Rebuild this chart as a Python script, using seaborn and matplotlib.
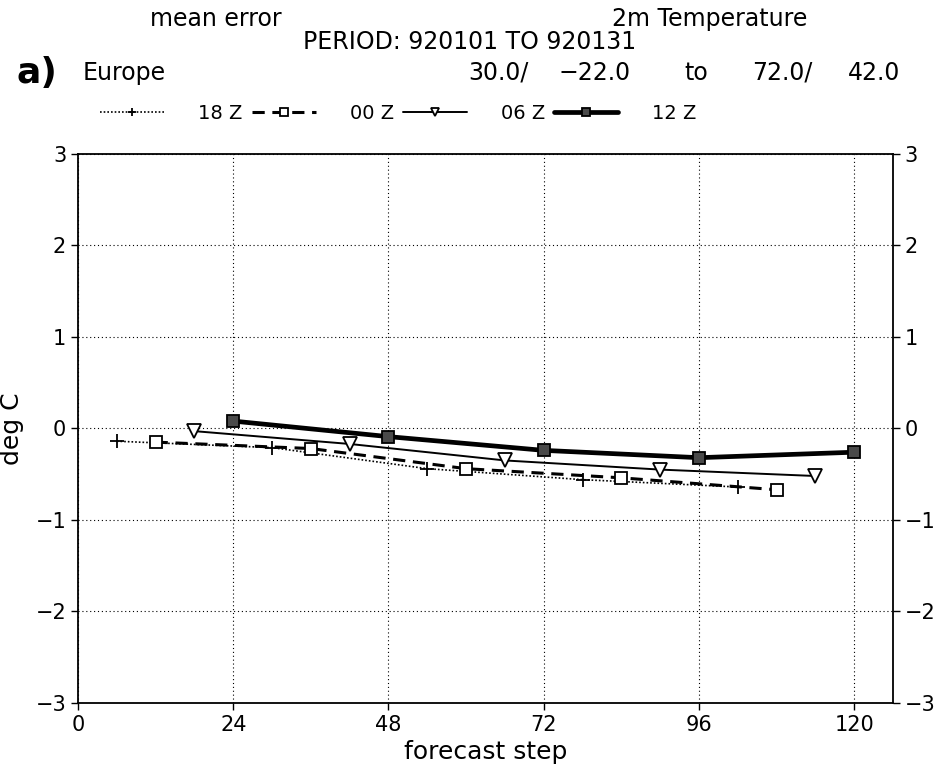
import matplotlib
matplotlib.use("Agg")
import matplotlib.pyplot as plt
from matplotlib.lines import Line2D
import seaborn as sns
import pandas as pd

# Data (forecast step in hours, error in deg C)
steps_18z = [6, 30, 54, 78, 102]
err_18z = [-0.14, -0.21, -0.44, -0.56, -0.64]
steps_00z = [12, 36, 60, 84, 108]
err_00z = [-0.15, -0.22, -0.44, -0.54, -0.67]
steps_06z = [18, 42, 66, 90, 114]
err_06z = [-0.03, -0.17, -0.35, -0.45, -0.52]
steps_12z = [24, 48, 72, 96, 120]
err_12z = [0.08, -0.09, -0.24, -0.32, -0.26]

x_ticks = [0, 24, 48, 72, 96, 120]
y_ticks = [-3, -2, -1, 0, 1, 2, 3]

sns.set_theme(style="white")
plt.rcParams['font.family'] = ['DejaVu Sans']
plt.rcParams['text.color'] = 'black'
plt.rcParams['axes.labelcolor'] = 'black'

fig = plt.figure(figsize=(9.4, 7.65), dpi=100)
ax = fig.add_axes([0.083, 0.081, 0.867, 0.718])

# series styles: label, x, y, line kwargs
series = [
    ("18 Z", steps_18z, err_18z, dict(color="black", lw=1.2, linestyle=(0, (1, 1.2)),
                                     marker="+", markersize=10, mfc="black", mec="black", mew=1.3)),
    ("00 Z", steps_00z, err_00z, dict(color="black", lw=2.2, linestyle=(0, (4, 2.5)),
                                     marker="s", markersize=9, mfc="white", mec="black", mew=1.3)),
    ("06 Z", steps_06z, err_06z, dict(color="black", lw=1.4, linestyle="-",
                                     marker="v", markersize=10, mfc="white", mec="black", mew=1.3)),
    ("12 Z", steps_12z, err_12z, dict(color="black", lw=3.4, linestyle="-",
                                     marker="s", markersize=9, mfc="#4a4a4a", mec="black", mew=1.3)),
]

handles = []
for label, xs, ys, kw in series:
    df = pd.DataFrame({"step": xs, "err": ys})
    sns.lineplot(data=df, x="step", y="err", ax=ax, **kw)
    handles.append(Line2D([0], [0], label=label, **kw))

ax.set_xlim(0, 126)
ax.set_ylim(-3, 3)
ax.set_xticks(x_ticks)
ax.set_yticks(y_ticks)
ax.tick_params(axis="both", direction="out", length=5, width=1, labelsize=15,
               left=True, bottom=True, right=True, labelright=True, colors="black")
ax.grid(True, color="black", linestyle=(0, (1, 2.5)), lw=0.8)
for sp in ax.spines.values():
    sp.set_color("black")
    sp.set_linewidth(1.3)

ax.set_xlabel("forecast step", fontsize=18, labelpad=4)
ax.set_ylabel("deg C", fontsize=18, labelpad=8)

# header texts
fig.text(0.23, 0.975, "mean error", fontsize=17, ha="center", va="center")
fig.text(0.755, 0.975, "2m Temperature", fontsize=17, ha="center", va="center")
fig.text(0.50, 0.945, "PERIOD: 920101 TO 920131", fontsize=17, ha="center", va="center")
fig.text(0.018, 0.905, "a)", fontsize=26, fontweight="bold", ha="left", va="center")
fig.text(0.088, 0.905, "Europe", fontsize=17, ha="left", va="center")
for txt, xpos in [("30.0/", 0.498), ("\u221222.0", 0.594), ("to", 0.728),
                  ("72.0/", 0.800), ("42.0", 0.902)]:
    fig.text(xpos, 0.905, txt, fontsize=17, ha="left", va="center")

fig.legend(handles=handles, loc="center left", bbox_to_anchor=(0.088, 0.852), ncol=4,
           frameon=False, fontsize=14, handlelength=3.3, handletextpad=1.75,
           columnspacing=0.45, markerscale=0.6)

fig.savefig("out.png", dpi=100)
